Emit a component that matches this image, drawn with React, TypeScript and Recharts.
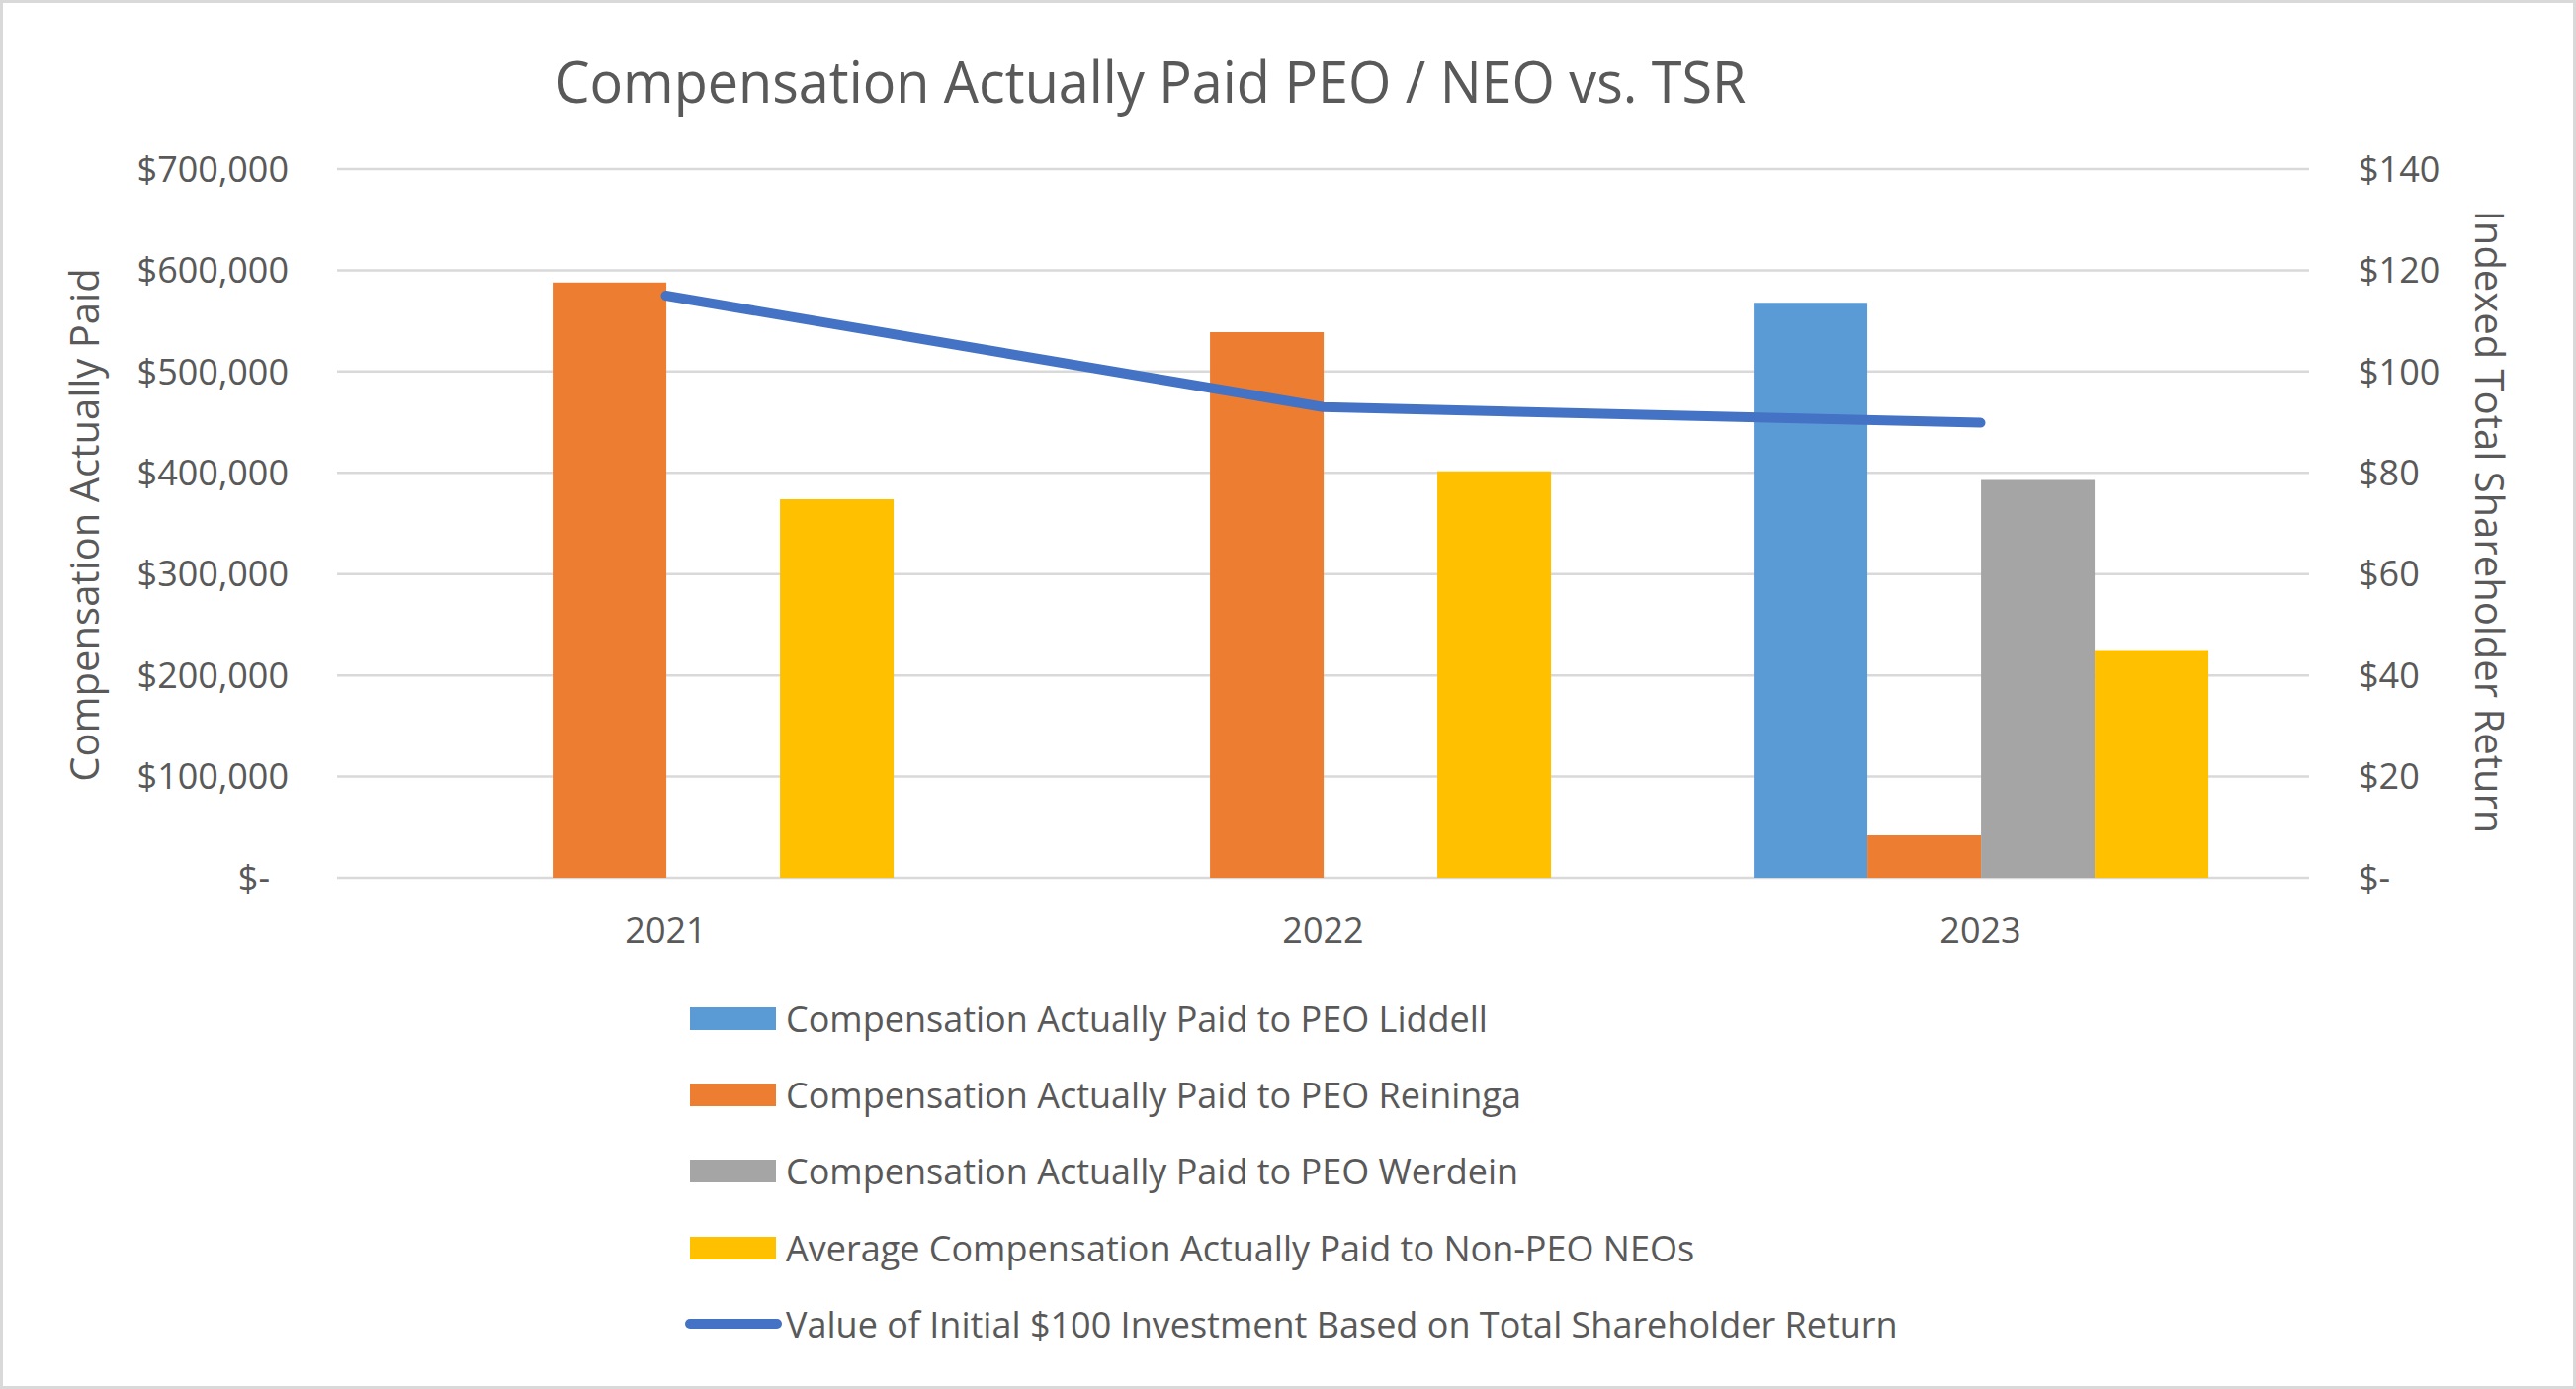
import React from 'react';
import { ComposedChart, Bar, Line, XAxis, YAxis, CartesianGrid, Legend } from 'recharts';

const years = ['2021', '2022', '2023'];
const capLiddell = [null, null, 568000];
const capReininga = [588000, 539000, 42000];
const capWerdein = [null, null, 393000];
const capNonPeoAvg = [374000, 401500, 225000];
const tsrValue = [115.0, 93.0, 89.9];

const leftTicks = [0, 100000, 200000, 300000, 400000, 500000, 600000, 700000];
const rightTicks = [0, 20, 40, 60, 80, 100, 120, 140];

const legendItems = [
  { name: 'Compensation Actually Paid to PEO Liddell', color: '#5B9BD5', type: 'rect' },
  { name: 'Compensation Actually Paid to PEO Reininga', color: '#ED7D31', type: 'rect' },
  { name: 'Compensation Actually Paid to PEO Werdein', color: '#A5A5A5', type: 'rect' },
  { name: 'Average Compensation Actually Paid to Non-PEO NEOs', color: '#FFC000', type: 'rect' },
  { name: 'Value of Initial $100 Investment Based on Total Shareholder Return', color: '#4472C4', type: 'line' },
];

const data = years.map((year, i) => ({
  year,
  liddell: capLiddell[i],
  reininga: capReininga[i],
  werdein: capWerdein[i],
  nonPeo: capNonPeoAvg[i],
  tsr: tsrValue[i],
}));

const W = 2606;
const H = 1405;
const TEXT = '#595959';
const FONT = '"Open Sans", sans-serif';

const LeftTick = (props: any) => {
  const { x, y, payload } = props;
  const zero = payload.value === 0;
  const label = zero ? '$-' : '$' + payload.value.toLocaleString('en-US');
  return (
    <text x={zero ? x - 19 : x} y={y} dy="0.355em" textAnchor="end" fill={TEXT} fontSize={36}>
      {label}
    </text>
  );
};

const RightTick = (props: any) => {
  const { x, y, payload } = props;
  const label = payload.value === 0 ? '$-' : '$' + payload.value;
  return (
    <text x={x} y={y} dy="0.355em" textAnchor="start" fill={TEXT} fontSize={36}>
      {label}
    </text>
  );
};

const renderLegend = () => (
  <div style={{ fontFamily: FONT, fontSize: 36, color: TEXT }}>
    {legendItems.map((item) => (
      <div key={item.name} style={{ display: 'flex', alignItems: 'center', height: 77.2, whiteSpace: 'nowrap' }}>
        {item.type === 'rect' ? (
          <div style={{ width: 87, height: 23, marginLeft: 5, marginRight: 10, background: item.color }} />
        ) : (
          <div style={{ width: 98, height: 10, marginRight: 4, borderRadius: 5, background: item.color }} />
        )}
        <span>{item.name}</span>
      </div>
    ))}
  </div>
);

export default function App() {
  return (
    <div
      style={{
        position: 'absolute',
        left: 0,
        top: 0,
        width: W,
        height: H,
        background: '#fff',
        fontFamily: FONT,
        boxSizing: 'border-box',
        border: '3px solid #D9D9D9',
        overflow: 'hidden',
      }}
    >
      <div style={{ position: 'absolute', left: -3, top: -3 }}>
        <ComposedChart
          width={W}
          height={H}
          data={data}
          margin={{ top: 171, right: 0, bottom: 417, left: 0 }}
          barCategoryGap="15.5%"
          barGap={0}
        >
          <CartesianGrid yAxisId="left" vertical={false} stroke="#D9D9D9" strokeWidth={2.5} />
          <XAxis
            dataKey="year"
            height={100}
            axisLine={false}
            tickLine={false}
            tickSize={0}
            tickMargin={40}
            tick={{ fill: TEXT, fontSize: 36 }}
          />
          <YAxis
            yAxisId="left"
            orientation="left"
            width={341}
            domain={[0, 700000]}
            ticks={leftTicks}
            axisLine={false}
            tickLine={false}
            tickSize={0}
            tickMargin={49}
            tick={<LeftTick />}
            interval={0}
          />
          <YAxis
            yAxisId="right"
            orientation="right"
            width={270}
            domain={[0, 140]}
            ticks={rightTicks}
            axisLine={false}
            tickLine={false}
            tickSize={0}
            tickMargin={50}
            tick={<RightTick />}
            interval={0}
          />
          <Legend
            layout="vertical"
            align="center"
            verticalAlign="middle"
            content={renderLegend}
            wrapperStyle={{ left: 693, top: 992, width: 1300, height: 390 }}
          />
          <Bar yAxisId="left" dataKey="liddell" name={legendItems[0].name} fill={legendItems[0].color} isAnimationActive={false} />
          <Bar yAxisId="left" dataKey="reininga" name={legendItems[1].name} fill={legendItems[1].color} isAnimationActive={false} />
          <Bar yAxisId="left" dataKey="werdein" name={legendItems[2].name} fill={legendItems[2].color} isAnimationActive={false} />
          <Bar yAxisId="left" dataKey="nonPeo" name={legendItems[3].name} fill={legendItems[3].color} isAnimationActive={false} />
          <Line
            yAxisId="right"
            type="linear"
            dataKey="tsr"
            name={legendItems[4].name}
            stroke={legendItems[4].color}
            strokeWidth={10}
            strokeLinecap="round"
            strokeLinejoin="round"
            dot={false}
            activeDot={false}
            isAnimationActive={false}
          />
        </ComposedChart>
      </div>
      <svg
        width={W}
        height={H}
        style={{ position: 'absolute', left: -3, top: -3, pointerEvents: 'none' }}
      >
        <text x={1164} y={104} textAnchor="middle" fill={TEXT} fontSize={58} textLength={1205} lengthAdjust="spacingAndGlyphs">
          Compensation Actually Paid PEO / NEO vs. TSR
        </text>
        <text x={100} y={531} textAnchor="middle" fill={TEXT} fontSize={40} transform="rotate(-90 100 531)">
          Compensation Actually Paid
        </text>
        <text x={2504} y={528} textAnchor="middle" fill={TEXT} fontSize={40} transform="rotate(90 2504 528)">
          Indexed Total Shareholder Return
        </text>
      </svg>
    </div>
  );
}
